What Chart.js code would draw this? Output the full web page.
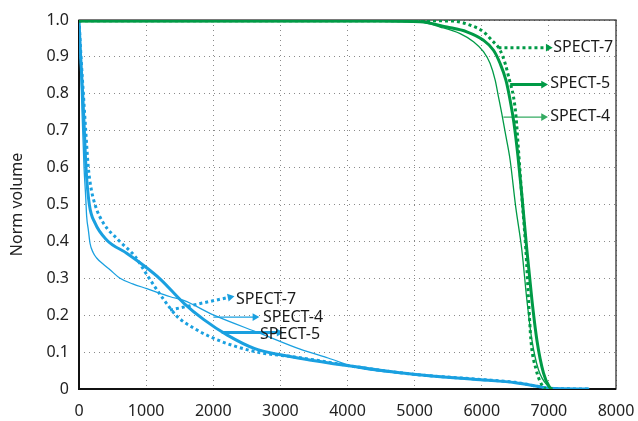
<!DOCTYPE html>
<html>
<head>
<meta charset="utf-8">
<script src="https://cdn.jsdelivr.net/npm/chart.js@4.4.1/dist/chart.umd.min.js"></script>
<style>
  html, body { margin: 0; padding: 0; background: #fff; overflow: hidden; }
  #wrap { width: 638px; height: 421px; position: relative; }
</style>
</head>
<body>
<div id="wrap"><canvas id="c"></canvas></div>
<script>
// ---------- data ----------
const xTicks = [0, 1000, 2000, 3000, 4000, 5000, 6000, 7000, 8000];
const yTicks = [0, 0.1, 0.2, 0.3, 0.4, 0.5, 0.6, 0.7, 0.8, 0.9, 1.0];

// blue family (fast decay)
const blue4X = [0, 20, 45, 75, 100, 114, 140, 164, 210, 263, 350, 462, 611, 800, 1010, 1360, 1560, 2010, 2710, 3294, 3710, 4188, 5000, 6000, 6500, 6870, 7000, 7600];
const blue4Y = [1.0, 0.9, 0.75, 0.6, 0.52, 0.468, 0.43, 0.395, 0.37, 0.355, 0.34, 0.323, 0.30, 0.285, 0.272, 0.25, 0.24, 0.20, 0.15, 0.108, 0.084, 0.056, 0.04, 0.026, 0.018, 0.006, 0.002, 0.0];

const blue5X = [0, 25, 55, 80, 104, 154, 238, 412, 710, 984, 1210, 1560, 1860, 2210, 2610, 2960, 3460, 4210, 4980, 5980, 6500, 6870, 7000, 7600];
const blue5Y = [1.0, 0.9, 0.8, 0.7, 0.6, 0.5, 0.45, 0.404, 0.368, 0.332, 0.298, 0.233, 0.188, 0.146, 0.11, 0.094, 0.078, 0.058, 0.04, 0.025, 0.017, 0.006, 0.002, 0.0];

const blue7X = [0, 30, 65, 100, 139, 174, 238, 362, 586, 835, 1010, 1260, 1460, 1710, 2010, 2360, 2710, 3210, 4210, 4980, 5980, 6500, 6870, 7000, 7600];
const blue7Y = [1.0, 0.9, 0.8, 0.7, 0.6, 0.55, 0.5, 0.45, 0.404, 0.359, 0.31, 0.243, 0.197, 0.165, 0.137, 0.114, 0.098, 0.087, 0.058, 0.04, 0.026, 0.018, 0.006, 0.002, 0.0];

// green family (late drop)
const green4X = [0, 3000, 4500, 5082, 5380, 5678, 5877, 6026, 6125, 6200, 6249, 6300, 6360, 6423, 6505, 6597, 6672, 6747, 6845, 6994, 7050];
const green4Y = [0.996, 0.996, 0.996, 0.994, 0.981, 0.963, 0.941, 0.914, 0.882, 0.837, 0.792, 0.745, 0.685, 0.62, 0.495, 0.377, 0.242, 0.133, 0.052, 0.006, 0.0];

const green5X = [0, 4500, 5082, 5480, 5777, 6026, 6175, 6274, 6360, 6415, 6480, 6540, 6600, 6672, 6747, 6821, 6920, 7009, 7050];
const green5Y = [0.997, 0.997, 0.995, 0.981, 0.968, 0.945, 0.918, 0.882, 0.837, 0.79, 0.72, 0.63, 0.52, 0.377, 0.242, 0.133, 0.043, 0.005, 0.0];

const green7X = [0, 5000, 5578, 5827, 6026, 6150, 6274, 6349, 6413, 6473, 6510, 6547, 6597, 6657, 6697, 6732, 6811, 6896, 6950];
const green7Y = [0.998, 0.998, 0.997, 0.986, 0.968, 0.945, 0.918, 0.882, 0.837, 0.792, 0.74, 0.648, 0.522, 0.377, 0.242, 0.133, 0.052, 0.011, 0.0];

// callout labels: text, arrow start (x,y), arrow end (x,y), label anchor (x,y)
const calloutText   = ['SPECT-7', 'SPECT-4', 'SPECT-5', 'SPECT-7', 'SPECT-5', 'SPECT-4'];
const calloutFromX  = [1356, 2002, 2126, 6249, 6423, 6323];
const calloutFromY  = [0.214, 0.195, 0.153, 0.925, 0.825, 0.737];
const calloutToX    = [2250, 2620, 2980, 6990, 6920, 6920];
const calloutToY    = [0.249, 0.195, 0.153, 0.925, 0.825, 0.737];
const calloutLabelX = [2340, 2742, 2697, 7064, 7019, 7019];
const calloutLabelY = [0.244, 0.195, 0.149, 0.925, 0.828, 0.738];

// ---------- styles ----------
const BLUE = '#1aa0e0';
const GREEN = '#009a46';
const GREEN_LIGHT = '#35ab62';
const calloutStyle = [
  { color: BLUE, width: 3, dash: [3, 3], rot: 78 },
  { color: BLUE, width: 1.3, dash: [], rot: 90 },
  { color: BLUE, width: 3, dash: [], rot: 90 },
  { color: GREEN, width: 3, dash: [3, 3], rot: 90 },
  { color: GREEN, width: 3, dash: [], rot: 90 },
  { color: GREEN_LIGHT, width: 1.3, dash: [], rot: 90 }
];

function pts(xs, ys) { return xs.map((x, i) => ({ x: x, y: ys[i] })); }

function curve(xs, ys, color, width, dash) {
  return {
    data: pts(xs, ys),
    borderColor: color,
    borderWidth: width,
    borderDash: dash,
    borderCapStyle: 'butt',
    pointRadius: 0,
    fill: false,
    cubicInterpolationMode: 'monotone'
  };
}

const datasets = [
  curve(green4X, green4Y, GREEN, 1.3, []),
  curve(green5X, green5Y, GREEN, 3, []),
  curve(green7X, green7Y, GREEN, 3, [3, 3]),
  curve(blue4X, blue4Y, BLUE, 1.3, []),
  curve(blue5X, blue5Y, BLUE, 3, []),
  curve(blue7X, blue7Y, BLUE, 3, [3, 3])
];

calloutText.forEach((t, i) => {
  const s = calloutStyle[i];
  datasets.push({
    data: [{ x: calloutFromX[i], y: calloutFromY[i] }, { x: calloutToX[i], y: calloutToY[i] }],
    borderColor: s.color,
    borderWidth: s.width,
    borderDash: s.dash,
    borderCapStyle: 'butt',
    pointRadius: [0, 4.5],
    pointStyle: 'triangle',
    rotation: s.rot,
    pointBackgroundColor: s.color,
    pointBorderWidth: 0,
    fill: false,
    tension: 0
  });
});

const frame = {
  id: 'frame',
  beforeDatasetsDraw(chart) {
    const a = chart.chartArea, ctx = chart.ctx;
    ctx.save();
    ctx.strokeStyle = '#333';
    ctx.lineWidth = 1.3;
    ctx.strokeRect(a.left, a.top, a.right - a.left, a.bottom - a.top);
    ctx.strokeStyle = '#111';
    ctx.lineWidth = 2;
    ctx.beginPath();
    ctx.moveTo(a.left, a.top);
    ctx.lineTo(a.left, a.bottom);
    ctx.lineTo(a.right, a.bottom);
    ctx.stroke();
    ctx.restore();
  }
};

const labels = {
  id: 'calloutLabels',
  afterDatasetsDraw(chart) {
    const ctx = chart.ctx, xs = chart.scales.x, ys = chart.scales.y;
    ctx.save();
    ctx.font = '16px "Noto Sans"';
    ctx.fillStyle = '#1a1a1a';
    ctx.textAlign = 'left';
    ctx.textBaseline = 'middle';
    calloutText.forEach((t, i) => {
      ctx.fillText(t, xs.getPixelForValue(calloutLabelX[i]), ys.getPixelForValue(calloutLabelY[i]));
    });
    ctx.restore();
  }
};

Chart.defaults.font.family = '"Noto Sans", sans-serif';
Chart.defaults.font.size = 16;
Chart.defaults.color = '#222';

new Chart(document.getElementById('c'), {
  type: 'line',
  data: { datasets: datasets },
  plugins: [frame, labels],
  options: {
    responsive: true,
    maintainAspectRatio: false,
    animation: false,
    events: [],
    layout: { padding: { left: 0, right: 22, top: 20, bottom: 0 } },
    plugins: { legend: { display: false }, tooltip: { enabled: false } },
    scales: {
      x: {
        type: 'linear',
        min: xTicks[0],
        max: xTicks[xTicks.length - 1],
        afterBuildTicks(s) { s.ticks = xTicks.map(v => ({ value: v })); },
        afterFit(s) { s.height = 32; s.paddingLeft = 0; s.paddingRight = 0; },
        ticks: { padding: 13, font: { size: 16 }, color: '#222', callback: v => String(v) },
        grid: { color: '#8a8a8a', lineWidth: 1, drawTicks: false },
        border: { display: false, dash: [1, 4] }
      },
      y: {
        type: 'linear',
        min: 0,
        max: 1,
        afterBuildTicks(s) { s.ticks = yTicks.map(v => ({ value: v })); },
        afterFit(s) { s.width = 79; s.paddingTop = 0; s.paddingBottom = 0; },
        ticks: { padding: 10, font: { size: 16 }, color: '#222', callback: v => (v === 0 ? '0' : v.toFixed(1)) },
        grid: { color: '#8a8a8a', lineWidth: 1, drawTicks: false },
        border: { display: false, dash: [1, 4] },
        title: { display: true, text: 'Norm volume', font: { size: 16 }, color: '#222', padding: { top: 8, bottom: 0 } }
      }
    }
  }
});
</script>
</body>
</html>
